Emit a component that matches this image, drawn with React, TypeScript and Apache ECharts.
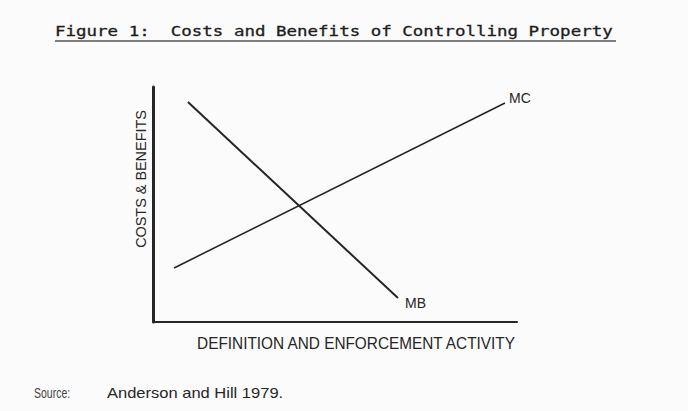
import React, { useEffect, useRef } from "react";
import * as echarts from "echarts";

const titleText = "Figure 1:  Costs and Benefits of Controlling Property";
const xAxisName = "DEFINITION AND ENFORCEMENT ACTIVITY";
const yAxisName = "COSTS & BENEFITS";
const sourceLabel = "Source:";
const sourceText = "Anderson and Hill 1979.";

// Marginal benefit (downward sloping) and marginal cost (upward sloping), in activity units 0-10
const mbX = [0.96, 6.73];
const mbY = [9.36, 1.02];
const mcX = [0.58, 9.67];
const mcY = [2.3, 9.32];
const seriesNames = ["MB", "MC"];

const ink = "#262626";

export default function App() {
  const ref = useRef<HTMLDivElement>(null);
  useEffect(() => {
    if (!ref.current) return;
    const chart = echarts.init(ref.current, undefined, { renderer: "svg" });
    const pts = (xs: number[], ys: number[]) => xs.map((x, i) => [x, ys[i]]);
    const endLbl = (name: string, offset: number[]) => ({
      show: true,
      formatter: name,
      offset,
      distance: 4,
      color: ink,
      fontFamily: "Liberation Sans",
      fontSize: 14,
    });
    chart.setOption({
      animation: false,
      backgroundColor: "#fbfbfb",
      grid: { left: 153, top: 87, width: 364, height: 235, containLabel: false },
      xAxis: {
        type: "value",
        min: 0,
        max: 10,
        axisLine: { show: true, onZero: false, lineStyle: { color: ink, width: 2 } },
        axisTick: { show: false },
        axisLabel: { show: false },
        splitLine: { show: false },
      },
      yAxis: {
        type: "value",
        min: 0,
        max: 10,
        axisLine: { show: true, onZero: false, lineStyle: { color: ink, width: 3 } },
        axisTick: { show: false },
        axisLabel: { show: false },
        splitLine: { show: false },
      },
      series: [
        {
          name: seriesNames[0],
          type: "line",
          data: pts(mbX, mbY),
          showSymbol: false,
          symbol: "none",
          lineStyle: { color: ink, width: 2 },
          endLabel: endLbl(seriesNames[0], [3, 5]),
        },
        {
          name: seriesNames[1],
          type: "line",
          data: pts(mcX, mcY),
          showSymbol: false,
          symbol: "none",
          lineStyle: { color: ink, width: 1.6 },
          endLabel: endLbl(seriesNames[1], [0, -5]),
        },
      ],
      graphic: [
        {
          type: "text",
          x: 55,
          y: 24,
          scaleX: 1.25,
          style: {
            text: titleText,
            fill: "#1e1e1e",
            fontFamily: "DejaVu Sans Mono",
            fontSize: 14,
            fontWeight: 500,
            stroke: "#1e1e1e",
            lineWidth: 0.3,
          },
        },
        {
          type: "line",
          shape: { x1: 55, y1: 41, x2: 616, y2: 41 },
          style: { stroke: "#555", lineWidth: 1.5 },
        },
        {
          type: "text",
          x: 141,
          y: 179,
          rotation: Math.PI / 2,
          scaleX: 1.03,
          style: {
            text: yAxisName,
            fill: ink,
            fontFamily: "Liberation Sans",
            fontSize: 14,
            align: "center",
            verticalAlign: "middle",
          },
        },
        {
          type: "text",
          x: 356,
          y: 343,
          scaleX: 0.96,
          style: {
            text: xAxisName,
            fill: ink,
            fontFamily: "Liberation Sans",
            fontSize: 16,
            align: "center",
            verticalAlign: "middle",
          },
        },
        {
          type: "text",
          x: 34,
          y: 393,
          scaleX: 0.75,
          style: {
            text: sourceLabel,
            fill: "#444",
            fontFamily: "Liberation Sans",
            fontSize: 14,
            verticalAlign: "middle",
          },
        },
        {
          type: "text",
          x: 107,
          y: 393,
          scaleX: 1.18,
          style: {
            text: sourceText,
            fill: ink,
            fontFamily: "Liberation Sans",
            fontSize: 14,
            verticalAlign: "middle",
          },
        },
      ],
    });
    return () => chart.dispose();
  }, []);
  return (
    <div
      ref={ref}
      style={{ position: "absolute", left: 0, top: 0, width: 688, height: 411 }}
    />
  );
}
